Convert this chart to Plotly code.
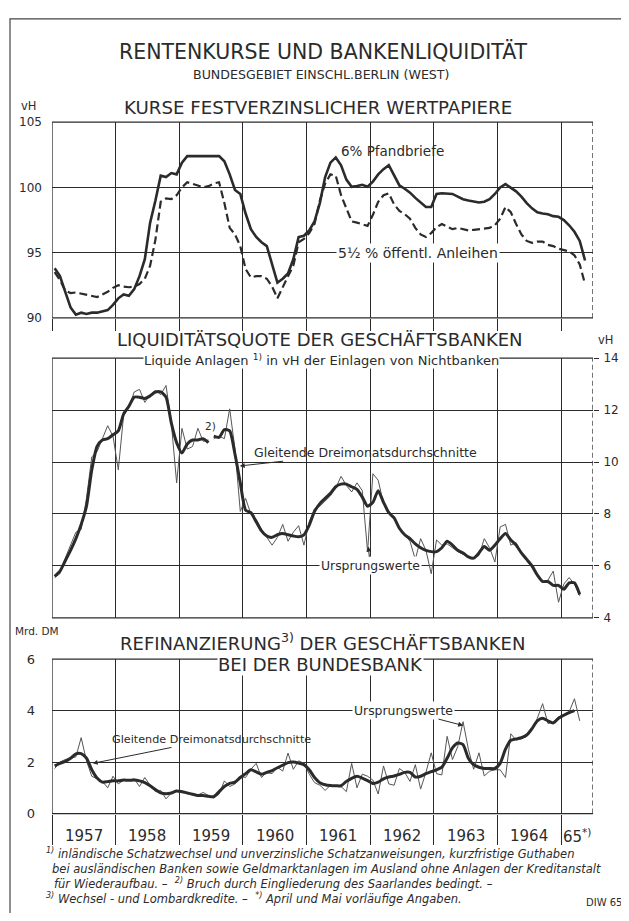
import numpy as np
import plotly.graph_objects as go

# ---------------- DATA (monthly, from Jan 1957) ----------------
pfandbriefe_6 = [
    93.8, 93.2, 92.0, 90.8, 90.25, 90.4, 90.3, 90.4, 90.4, 90.5, 90.6, 91.0,
    91.5, 91.8, 91.7, 92.2, 93.2, 94.5, 97.3, 99.0, 100.9, 100.8, 101.1, 101.0,
    101.9, 102.4, 102.4, 102.4, 102.4, 102.4, 102.4, 102.4, 102.0, 101.0, 99.8, 99.5,
    98.0, 96.8, 96.2, 95.8, 95.5, 94.0, 92.7, 93.0, 93.4, 94.5, 96.2, 96.3,
    96.7, 97.4, 98.8, 100.8, 101.9, 102.3, 101.7, 100.6, 100.05, 100.1, 100.2, 100.05,
    100.45, 101.0, 101.4, 101.7, 100.9, 100.15, 99.9, 99.6, 99.2, 98.85, 98.5, 98.5,
    99.5, 99.55, 99.5, 99.5, 99.3, 99.1, 99.0, 98.9, 98.85, 98.9, 99.1, 99.5,
    100.0, 100.25, 100.0, 99.7, 99.3, 98.8, 98.4, 98.1, 98.0, 97.95, 97.8, 97.75,
    97.5, 97.1, 96.6, 95.9, 94.4,
]
anleihen_5_5 = [
    93.5, 92.9, 92.1, 91.9, 91.95, 91.85, 91.8, 91.7, 91.6, 91.8, 92.0, 92.3,
    92.5, 92.4, 92.35, 92.4, 92.6, 93.0, 94.0, 96.0, 98.9, 99.15, 99.1, 99.4,
    100.0, 100.4, 100.3, 100.15, 100.0, 100.1, 100.3, 100.4, 98.8, 96.9, 96.4, 95.5,
    93.75, 93.1, 93.2, 93.2, 93.0, 92.4, 91.5, 92.4, 93.2, 94.0, 95.8, 96.05,
    96.5, 97.2, 99.0, 100.3, 101.0, 100.9, 99.4, 98.4, 97.4, 97.3, 97.15, 97.05,
    97.9, 98.9, 99.4, 99.55, 98.7, 98.2, 97.95, 97.6, 96.9, 96.4, 96.2, 96.5,
    96.95, 97.2, 97.0, 96.8, 96.9, 96.8, 96.7, 96.75, 96.8, 96.85, 96.9, 97.1,
    97.6, 98.5, 98.1, 97.2, 96.4, 95.9, 95.75, 95.85, 95.85, 95.6, 95.5, 95.3,
    95.2, 95.1, 94.8, 94.1, 92.6,
]
liq_original = [
    5.55, 5.7, 6.3, 6.8, 7.3, 7.4, 8.6, 10.2, 10.4, 10.9, 11.4, 11.0,
    9.7, 11.8, 12.1, 12.7, 12.8, 12.3, 12.6, 12.75, 12.6, 12.95, 11.5, 9.2,
    11.3, 10.5, 10.6, 11.3, 10.8, 10.85, 10.9, 11.0, 10.9, 12.05, 10.5, 8.1,
    8.6, 8.0, 7.8, 7.4, 7.1, 6.8, 7.1, 7.6, 6.95, 7.3, 7.55, 6.8,
    7.7, 8.2, 8.3, 8.5, 8.7, 9.0, 9.45, 9.1, 8.85, 9.2, 8.9, 6.55,
    9.55, 9.3, 8.4, 8.0, 7.9, 7.4, 7.2, 6.95, 6.25, 7.05, 6.6, 5.7,
    7.0, 6.8, 6.85, 6.7, 6.55, 6.45, 6.35, 6.3, 6.4, 7.05, 6.7, 6.15,
    7.5, 7.6, 6.8, 6.9, 6.5, 6.2, 5.95, 5.6, 5.4, 5.45, 5.8, 4.6,
    5.3, 5.55, 5.3, 4.85,
]
liq_avg = [
    5.6, 5.8, 6.2, 6.6, 7.05, 7.6, 8.3, 9.7, 10.6, 10.85, 10.9, 11.05,
    11.2, 11.85, 12.15, 12.5, 12.5, 12.45, 12.55, 12.7, 12.7, 12.5, 11.5, 10.75,
    10.35, 10.7, 10.85, 10.85, 10.9, 10.75, 11.0, 10.95, 11.25, 11.2, 10.3, 9.2,
    8.15, 8.05, 7.7, 7.35, 7.15, 7.1, 7.2, 7.25, 7.2, 7.15, 7.12, 7.2,
    7.57, 8.1, 8.4, 8.6, 8.8, 9.05, 9.15, 9.15, 9.05, 8.95, 8.65, 8.3,
    8.45, 8.9, 8.45, 8.05, 7.85, 7.45, 7.2, 7.05, 6.85, 6.7, 6.6, 6.55,
    6.55, 6.7, 6.95, 6.8, 6.6, 6.5, 6.35, 6.3, 6.5, 6.75, 6.6, 6.8,
    7.05, 7.25, 7.0, 6.8, 6.5, 6.25, 6.0, 5.65, 5.4, 5.4, 5.25, 5.25,
    5.1, 5.35, 5.35, 4.9,
]
saar_break = 30  # first month after the Saarland break (Jul 1959)

refi_original = [
    1.75, 2.0, 2.1, 2.15, 2.2, 2.95, 2.05, 1.45, 1.35, 1.25, 1.0, 1.45,
    1.15, 1.3, 1.3, 1.35, 1.05, 1.4, 1.1, 0.85, 0.9, 0.57, 0.8, 0.9,
    0.87, 0.8, 0.75, 0.72, 0.82, 0.7, 0.6, 0.75, 1.27, 1.05, 1.15, 1.45,
    1.4, 1.72, 1.95, 1.4, 1.6, 1.55, 1.8, 1.65, 2.35, 1.72, 2.05, 1.95,
    1.53, 1.2, 1.1, 0.9, 1.1, 1.05, 1.05, 0.85, 1.95, 1.0, 1.53, 1.45,
    1.3, 0.76, 1.85, 1.15, 1.1, 1.75, 1.6, 1.25, 1.9, 0.95, 1.6, 2.36,
    1.55, 1.5, 3.0, 2.1, 2.6, 3.57, 2.5, 1.72, 2.36, 1.46, 1.65, 1.7,
    1.7, 1.4, 3.1, 2.85, 2.9, 3.0, 3.25, 3.7, 4.27, 3.5, 3.55, 3.75,
    3.85, 3.95, 4.46, 3.6,
]
refi_avg = [
    1.85, 1.95, 2.03, 2.15, 2.32, 2.33, 2.15, 1.7, 1.38, 1.22, 1.24, 1.27,
    1.27, 1.3, 1.29, 1.3, 1.27, 1.2, 1.08, 0.93, 0.8, 0.77, 0.8, 0.88,
    0.85, 0.8, 0.75, 0.7, 0.7, 0.67, 0.66, 0.85, 1.05, 1.17, 1.22, 1.4,
    1.55, 1.7, 1.62, 1.53, 1.6, 1.67, 1.78, 1.88, 1.98, 2.0, 1.96, 1.9,
    1.7, 1.4, 1.2, 1.12, 1.09, 1.08, 1.08, 1.25, 1.37, 1.45, 1.38, 1.28,
    1.17, 1.22, 1.35, 1.42, 1.46, 1.52, 1.6, 1.6, 1.42, 1.45, 1.55, 1.63,
    1.7, 1.8, 2.15, 2.55, 2.74, 2.68, 2.15, 1.9, 1.8, 1.75, 1.75, 1.75,
    1.95, 2.5, 2.85, 2.9, 2.95, 3.05, 3.3, 3.6, 3.7, 3.6, 3.52, 3.7,
    3.82, 3.92, 4.0,
]
start_year = 1957
year_labels = ["1957", "1958", "1959", "1960", "1961", "1962", "1963", "1964", "65<sup>*)</sup>"]
year_label_pos = [1957.5, 1958.5, 1959.5, 1960.5, 1961.5, 1962.5, 1963.5, 1964.5, 1965.25]

# ---------------- LAYOUT HELPERS ----------------
# page body has an 8px margin; figure is sized so that it fits the 629x921 window
OX, OY = 8, 8
W, H = 621, 905
INK = "#2b2b2b"
FONT = "DejaVu Sans"


def px(x):
    return (x - OX) / W


def py(y):
    return 1 - (y - OY) / H


def mx(n):
    return start_year + (np.arange(n) + 0.5) / 12.0


XR = [1957, 1965.5]
fig = go.Figure()

# Panel 1
fig.add_trace(go.Scatter(x=mx(len(anleihen_5_5)), y=anleihen_5_5, mode="lines",
                         line=dict(color=INK, width=2.2, dash="8px,4px"),
                         xaxis="x", yaxis="y", showlegend=False))
fig.add_trace(go.Scatter(x=mx(len(pfandbriefe_6)), y=pfandbriefe_6, mode="lines",
                         line=dict(color=INK, width=2.6),
                         xaxis="x", yaxis="y", showlegend=False))

# Panel 2 (split at Saarland break)
xl = mx(len(liq_original))
xa = mx(len(liq_avg))
for seg in [slice(0, saar_break), slice(saar_break, None)]:
    fig.add_trace(go.Scatter(x=xl[seg], y=liq_original[seg], mode="lines",
                             line=dict(color="#555", width=1),
                             xaxis="x2", yaxis="y2", showlegend=False))
    fig.add_trace(go.Scatter(x=xa[seg], y=liq_avg[seg], mode="lines",
                             line=dict(color=INK, width=3, shape="spline", smoothing=0.6),
                             xaxis="x2", yaxis="y2", showlegend=False))

# Panel 3
fig.add_trace(go.Scatter(x=mx(len(refi_original)), y=refi_original, mode="lines",
                         line=dict(color="#555", width=1),
                         xaxis="x3", yaxis="y3", showlegend=False))
fig.add_trace(go.Scatter(x=mx(len(refi_avg)), y=refi_avg, mode="lines",
                         line=dict(color=INK, width=3, shape="spline", smoothing=0.6),
                         xaxis="x3", yaxis="y3", showlegend=False))

xdom = [px(52), px(593)]
xcommon = dict(domain=xdom, range=XR, tick0=1957, dtick=1, showgrid=True,
               gridcolor=INK, gridwidth=1, showticklabels=False, zeroline=False,
               showline=False, tickcolor=INK, tickwidth=1)
ycommon = dict(showgrid=True, gridcolor=INK, gridwidth=1, zeroline=False, showline=False)

fig.update_layout(
    width=W, height=H, autosize=False,
    margin=dict(l=0, r=0, t=0, b=0),
    paper_bgcolor="white", plot_bgcolor="white",
    xaxis=dict(**xcommon, anchor="y", ticks="outside", ticklen=12),
    xaxis2=dict(**xcommon, anchor="y2", matches="x", ticks=""),
    xaxis3=dict(**xcommon, anchor="y3", matches="x", ticks="outside", ticklen=30),
    yaxis=dict(**ycommon, domain=[py(316), py(117)], range=[90, 105], tick0=90, dtick=5,
               anchor="x", side="left", ticks="", ticklabelstandoff=9,
               tickfont=dict(family=FONT, size=12, color=INK)),
    yaxis2=dict(**ycommon, domain=[py(621), py(357)], range=[4, 14], tick0=4, dtick=2,
                anchor="x2", side="right", ticks="outside", ticklen=5, tickcolor=INK,
                ticklabelstandoff=2, tickfont=dict(family=FONT, size=12, color=INK)),
    yaxis3=dict(**ycommon, domain=[py(820), py(663)], range=[0, 6], tick0=0, dtick=2,
                anchor="x3", side="left", ticks="", ticklabelstandoff=16,
                tickfont=dict(family=FONT, size=13, color=INK)),
)

# Panel frames
shapes = []
for xr, yr in [("x", "y"), ("x2", "y2"), ("x3", "y3")]:
    yd = yr + " domain"
    shapes += [
        dict(type="line", xref=xr, yref=yd, x0=XR[0], x1=XR[0], y0=0, y1=1, line=dict(color=INK, width=1.3)),
        dict(type="line", xref=xr, yref=yd, x0=XR[0], x1=XR[1], y0=0, y1=0, line=dict(color=INK, width=1.3)),
        dict(type="line", xref=xr, yref=yd, x0=XR[0], x1=XR[1], y0=1, y1=1, line=dict(color=INK, width=1.3)),
        dict(type="line", xref=xr, yref=yd, x0=XR[1], x1=XR[1], y0=0, y1=1, line=dict(color=INK, width=1.3, dash="5px,3px")),
    ]
# outer frame
shapes.append(dict(type="rect", xref="paper", yref="paper", x0=px(10), x1=px(626),
                   y0=py(935), y1=py(12), line=dict(color="#444", width=1.2)))
fig.update_layout(shapes=shapes)

ann = []


def T(text, x, y, size, xref="paper", yref="paper", xanchor="center", bg=None, italic=False,
      color=INK, head=None, pad=1):
    d = dict(text=("<i>" + text + "</i>") if italic else text, xref=xref, yref=yref,
             xanchor=xanchor, yanchor="middle",
             font=dict(family=FONT, size=size, color=color))
    if head is None:
        d.update(x=x, y=y, showarrow=False)
    else:
        d.update(x=head[0], y=head[1], ax=x, ay=y, axref=xref, ayref=yref, showarrow=True,
                 arrowhead=2, arrowsize=1, arrowwidth=1, arrowcolor=INK, standoff=0)
    if bg:
        d.update(bgcolor=bg, borderpad=pad)
    ann.append(d)


# Titles
T("RENTENKURSE UND BANKENLIQUIDITÄT", px(323), py(45), 20.5)
T("BUNDESGEBIET EINSCHL.BERLIN (WEST)", px(321), py(68), 12.6)
T("KURSE FESTVERZINSLICHER WERTPAPIERE", px(318), py(102), 18.2)
T("vH", px(28), py(101), 11.5)

T("LIQUIDITÄTSQUOTE DER GESCHÄFTSBANKEN", px(320), py(338), 18.0)
T("Liquide Anlagen <sup>1)</sup> in vH der Einlagen von Nichtbanken", px(321), py(359), 13, bg="white", pad=0)
T("vH", px(605), py(338), 11.5)

T("Mrd. DM", px(37), py(634), 10.5)
T("REFINANZIERUNG<sup>3)</sup> DER GESCHÄFTSBANKEN", px(322), py(646), 18.0)
T("BEI DER BUNDESBANK", px(320), py(668), 18.0, bg="white", pad=0)

# Panel 1 labels
T("6% Pfandbriefe", 1962.35, 102.8, 13.5, xref="x", yref="y")
T("5½ % öffentl. Anleihen", 1962.75, 95.0, 14, xref="x", yref="y", bg="white")

# Panel 2 labels
T("2)", 1959.49, 11.4, 10.5, xref="x2", yref="y2")
T("Gleitende Dreimonatsdurchschnitte", 1961.92, 10.38, 12.5, xref="x2", yref="y2",
  head=(1959.95, 9.85))
T("Ursprungswerte", 1962.0, 6.0, 12.4, xref="x2", yref="y2", bg="white",
  head=(1961.97, 6.75))

# Panel 3 labels
T("Gleitende Dreimonatsdurchschnitte", 1959.5, 2.88, 11.2, xref="x3", yref="y3",
  head=(1957.64, 1.95))
T("Ursprungswerte", 1962.53, 4.02, 12.4, xref="x3", yref="y3", bg="white",
  head=(1963.46, 3.42))

# Year labels
for lab, xp in zip(year_labels, year_label_pos):
    T(lab, xp, py(843), 15, xref="x3", yref="paper")

# Footnotes
T("<sup>1)</sup> inländische Schatzwechsel und unverzinsliche Schatzanweisungen, kurzfristige Guthaben",
  px(44), py(861), 11.5, xanchor="left", italic=True)
T("bei ausländischen Banken sowie Geldmarktanlagen im Ausland ohne Anlagen der Kreditanstalt",
  px(50), py(876), 11.5, xanchor="left", italic=True)
T("für Wiederaufbau. –  <sup>2)</sup> Bruch durch Eingliederung des Saarlandes bedingt. –",
  px(52), py(891), 11.5, xanchor="left", italic=True)
T("<sup>3)</sup> Wechsel - und Lombardkredite. –  <sup>*)</sup> April und Mai vorläufige Angaben.",
  px(44), py(906), 11.5, xanchor="left", italic=True)
T("DIW 65", px(624), py(910), 10, xanchor="right")

fig.update_layout(annotations=ann)
fig.write_html("out.html")
